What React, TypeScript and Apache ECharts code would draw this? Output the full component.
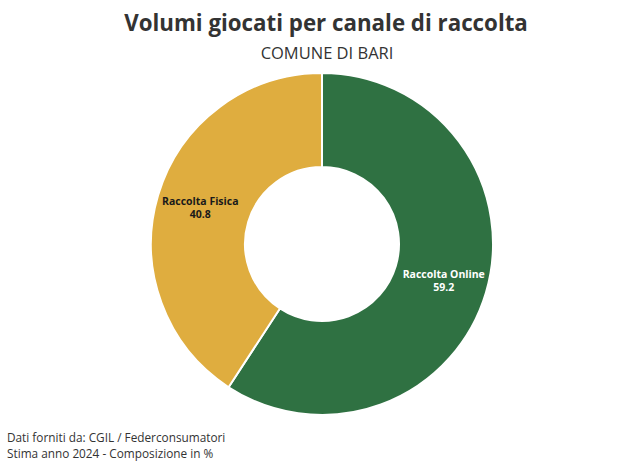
import React, { useEffect, useRef } from "react";
import * as echarts from "echarts";

const titleText = "Volumi giocati per canale di raccolta";
const subtitleText = "COMUNE DI BARI";
const footerLines = ["Dati forniti da: CGIL / Federconsumatori", "Stima anno 2024 - Composizione in %"];

const categories = ["Raccolta Online", "Raccolta Fisica"];
const values = [59.2, 40.8];
const colors = ["#2f7142", "#dfad3f"];
const labelColors = ["#ffffff", "#1a1a1a"];

const FONT = "'Open Sans', 'Noto Sans', sans-serif";

export default function App() {
  const ref = useRef<HTMLDivElement>(null);
  useEffect(() => {
    if (!ref.current) return;
    const chart = echarts.init(ref.current, undefined, { renderer: "svg" });
    chart.setOption({
      animation: false,
      backgroundColor: "#ffffff",
      title: [
        {
          text: titleText,
          left: 321,
          top: 6,
          textAlign: "center",
          textStyle: { fontFamily: FONT, fontSize: 22.3, fontWeight: "bold", color: "#333333" },
        },
        {
          text: subtitleText,
          left: 322,
          top: 39,
          textAlign: "center",
          textStyle: { fontFamily: FONT, fontSize: 16.5, fontWeight: "normal", color: "#333333" },
        },
      ],
      graphic: footerLines.map((line, i) => ({
        type: "text",
        left: 7,
        top: 431 + i * 16,
        style: { text: line, fontFamily: FONT, fontSize: 11.8, fill: "#333333" },
      })),
      series: [
        {
          type: "pie",
          center: [322, 244],
          radius: [77, 171],
          startAngle: 90,
          clockwise: true,
          itemStyle: { borderColor: "#ffffff", borderWidth: 2 },
          label: {
            show: true,
            position: "inside",
            formatter: (p: any) => `${p.name}\n${p.value}`,
            fontFamily: FONT,
            fontSize: 10.5,
            fontWeight: "bold",
            lineHeight: 13,
            align: "center",
          },
          labelLine: { show: false },
          emphasis: { disabled: true },
          data: categories.map((name, i) => ({
            name,
            value: values[i],
            itemStyle: { color: colors[i] },
            label: { color: labelColors[i] },
          })),
        },
      ],
    });
    return () => chart.dispose();
  }, []);
  return (
    <div
      ref={ref}
      style={{ position: "fixed", left: 0, top: 0, width: 640, height: 469, background: "#fff" }}
    />
  );
}
